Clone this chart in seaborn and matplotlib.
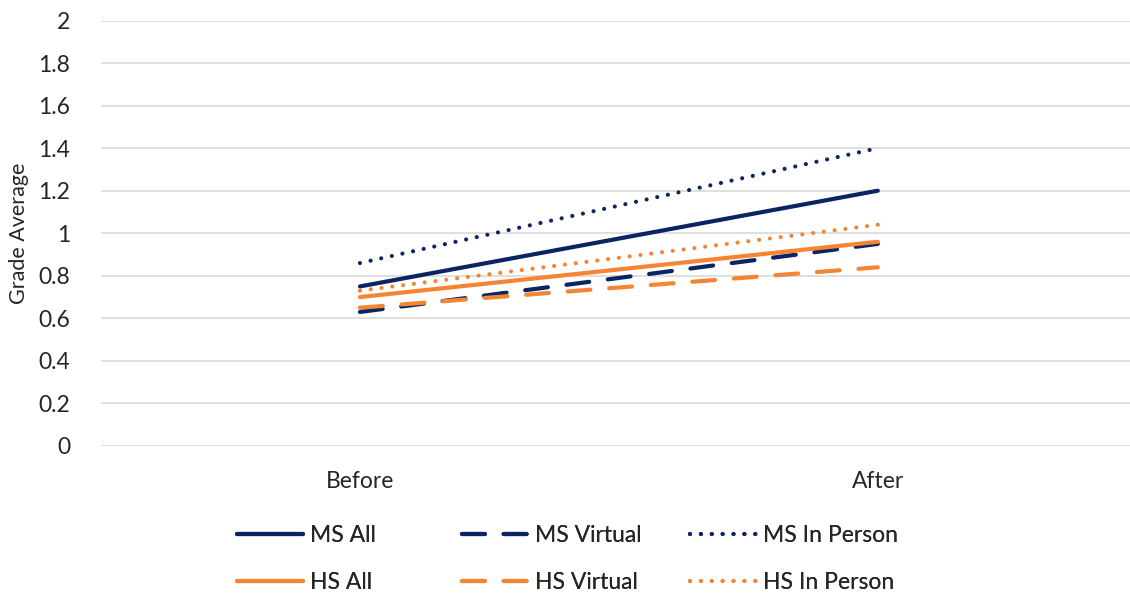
import matplotlib
matplotlib.use("Agg")
import matplotlib.pyplot as plt
import pandas as pd
import seaborn as sns

# data
periods = ["Before", "After"]
series = ["MS All", "MS Virtual", "MS In Person", "HS All", "HS Virtual", "HS In Person"]
ms_all = [0.75, 1.20]
ms_virtual = [0.63, 0.95]
ms_in_person = [0.86, 1.40]
hs_all = [0.70, 0.96]
hs_virtual = [0.65, 0.84]
hs_in_person = [0.73, 1.04]
y_ticks = [0, 0.2, 0.4, 0.6, 0.8, 1, 1.2, 1.4, 1.6, 1.8, 2]
y_tick_labels = ["0", "0.2", "0.4", "0.6", "0.8", "1", "1.2", "1.4", "1.6", "1.8", "2"]

NAVY = "#0B2462"
ORANGE = "#F68533"

values = [ms_all, ms_virtual, ms_in_person, hs_all, hs_virtual, hs_in_person]
rows = []
for name, vals in zip(series, values):
    for i, (p, v) in enumerate(zip(periods, vals)):
        rows.append({"series": name, "period": p, "x": i, "value": v})
df = pd.DataFrame(rows)

palette = {s: (NAVY if s.startswith("MS") else ORANGE) for s in series}
dashes = {}
for s in series:
    if s.endswith("All"):
        dashes[s] = ""
    elif s.endswith("Virtual"):
        dashes[s] = (5.5, 4.5)
    else:
        dashes[s] = (0.01, 2.6)

sns.set_style("white")
plt.rcParams["font.family"] = ["Lato", "DejaVu Sans"]
FS = 16.5

fig = plt.figure(figsize=(11.3, 5.96), dpi=100)
ax = fig.add_axes([101 / 1130, 150 / 596, 1 - 101 / 1130, 425.5 / 596])

sns.lineplot(data=df, x="x", y="value", hue="series", style="series",
             hue_order=series, style_order=series, palette=palette,
             dashes=dashes, linewidth=3, ax=ax, legend=False)
for line in ax.get_lines():
    line.set_dash_capstyle("round")
    line.set_solid_capstyle("round")

ax.set_xlim(-0.5, 1.487)
ax.set_ylim(0, 2)
ax.set_yticks(y_ticks)
ax.set_yticklabels(y_tick_labels, fontsize=FS)
ax.set_xticks([0, 1])
ax.set_xticklabels(periods, fontsize=FS)
ax.tick_params(axis="both", length=0)
ax.tick_params(axis="y", pad=22)
ax.tick_params(axis="x", pad=18)
ax.set_xlabel("")
ax.set_ylabel("Grade Average", fontsize=FS - 1)
ax.yaxis.set_label_coords(-72 / 1029, 0.5)
ax.grid(axis="y", color="#D9D9D9", linewidth=1.2)
ax.set_axisbelow(True)
for sp in ax.spines.values():
    sp.set_visible(False)

# legend: one column per kind (All / Virtual / In Person), rows MS / HS
proxy = {}
for s in series:
    if dashes[s] == "":
        h, = ax.plot([], [], color=palette[s], linewidth=3, linestyle="-")
    else:
        h, = ax.plot([], [], color=palette[s], linewidth=3, dashes=dashes[s])
    h.set_dash_capstyle("round")
    h.set_solid_capstyle("round")
    proxy[s] = h

col_x = [237, 462, 690]
for kind, x0 in zip(["All", "Virtual", "In Person"], col_x):
    labels = [f"MS {kind}", f"HS {kind}"]
    leg = fig.legend([proxy[s] for s in labels], labels, loc="center left",
                     bbox_to_anchor=(x0 / 1130, 37 / 596), frameon=False,
                     fontsize=FS, handlelength=2.9, handletextpad=0.3,
                     labelspacing=1.15, borderpad=0, borderaxespad=0)
    fig.add_artist(leg)

fig.savefig("out.png", dpi=100)
